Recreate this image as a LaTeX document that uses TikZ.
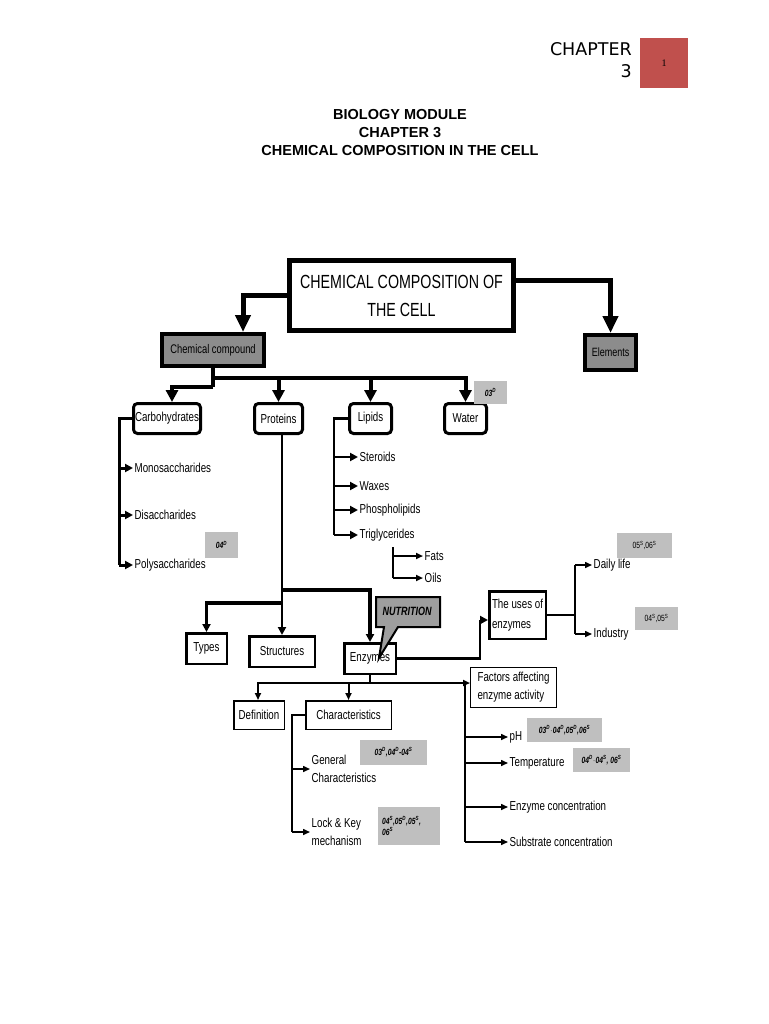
\documentclass[tikz,border=0pt]{standalone}
\usepackage{fontspec}
\setmainfont{Liberation Sans}
\newfontfamily\nf[FakeStretch=0.75]{Liberation Sans}
\newfontfamily\hdf{DejaVu Sans}
\newfontfamily\serf{Liberation Serif}
\usetikzlibrary{arrows.meta}
\newcommand\su[1]{\textsuperscript{#1}}
\tikzset{
  lbl/.style={anchor=west, inner sep=1.5pt, align=left, font={\nf\fontsize{13}{18}\selectfont}},
  rbox/.style={draw, line width=3pt, rounded corners=4pt, inner sep=0pt, minimum height=30pt, font={\nf\fontsize{13}{15}\selectfont}},
  sbox/.style={draw, line width=2.5pt, inner sep=0pt, font={\nf\fontsize{13}{15}\selectfont}},
  tbox/.style={draw, line width=1.5pt, inner sep=0pt, font={\nf\fontsize{13}{15}\selectfont}},
  badge/.style={fill=black!25, inner sep=0pt, align=left, font={\nf\bfseries\itshape\fontsize{9}{11}\selectfont}},
  rbadge/.style={fill=black!25, inner sep=0pt, font={\nf\fontsize{9}{11}\selectfont}},
  tipL/.style={-{Triangle[width=15pt,length=17pt]}},
  tipM/.style={-{Triangle[width=12pt,length=12pt]}},
  tipS/.style={-{Triangle[width=8pt,length=8pt]}},
  tipXS/.style={-{Triangle[width=6pt,length=7pt]}},
}
\begin{document}
\begin{tikzpicture}[x=1pt,y=-1pt]
\useasboundingbox[fill=white] (0,0) rectangle (768,1024);

% header
\node[anchor=north east, align=right, inner sep=0pt, font={\hdf\fontsize{17.5}{22}\selectfont}] (chap) at (632,42) {CHAPTER\\3};
\node[fill={rgb,255:red,192;green,80;blue,77}, minimum width=48pt, minimum height=50pt, inner sep=0pt, font={\serf\fontsize{10}{12}\selectfont}] (pg) at (664,63) {1};
\node[align=center, inner sep=0pt, font={\bfseries\fontsize{14.5}{18}\selectfont}] (title) at (400,133) {BIOLOGY MODULE\\CHAPTER 3\\CHEMICAL COMPOSITION IN THE CELL};

% top level
\node[draw, line width=5pt, minimum width=224pt, minimum height=70pt, inner sep=0pt, align=center, font={\nf\fontsize{19}{28}\selectfont}] (main) at (401.5,295.5) {CHEMICAL COMPOSITION OF\\THE CELL};
\node[draw, fill=black!45, line width=4pt, minimum width=102pt, minimum height=32pt, inner sep=0pt, font={\nf\fontsize{12.5}{14}\selectfont}] (cc) at (213,350) {Chemical compound};
\node[draw, fill=black!45, line width=4pt, minimum width=51pt, minimum height=35pt, inner sep=0pt, font={\nf\fontsize{12}{14}\selectfont}] (elem) at (610.5,352.5) {Elements};
\draw[line width=5pt, tipL] (main.west) -| ([xshift=30pt]cc.north);
\draw[line width=5pt, tipL] ([yshift=15pt]main.east) -| (elem.north);

% second level
\node[rbox, minimum width=67pt] (carb) at (167,418.5) {Carbohydrates};
\node[rbox, minimum width=48pt] (prot) at (278.5,418.5) {Proteins};
\node[rbox, minimum width=42pt] (lip) at (370.5,418.5) {Lipids};
\node[rbox, minimum width=42pt] (water) at (465.5,418.5) {Water};
\node[badge, minimum width=33pt, minimum height=23pt] (wb) at (490.5,392.5) {03\su{D}};
\coordinate (j1) at (213,378);
\coordinate (j2) at (213,387);
\draw[line width=4pt] (cc.south) -- (j2);
\draw[line width=4pt, tipM] (j2) -| ([xshift=5pt]carb.north);
\draw[line width=4pt, tipM] (j1) -| (water.north);
\draw[line width=4pt, tipM] (j1 -| prot.north) -- (prot.north);
\draw[line width=4pt, tipM] (j1 -| lip.north) -- (lip.north);

% carbohydrates
\node[badge, minimum width=33pt, minimum height=26pt] (pb) at (221.5,545) {04\su{D}};
\node[lbl] (mono) at (133,468) {Monosaccharides};
\node[lbl] (di) at (133,515) {Disaccharides};
\node[lbl] (poly) at (133,565) {Polysaccharides};
\coordinate (ct) at (119,418.5);
\draw[line width=3pt] (carb.west) -- (ct) -- (ct |- poly.west);
\foreach \n in {mono,di,poly} \draw[line width=3pt, tipS] (ct |- \n.west) -- (\n.west);

% lipids
\node[lbl] (ster) at (358,457) {Steroids};
\node[lbl] (wax) at (358,486) {Waxes};
\node[lbl] (phos) at (358,510) {Phospholipids};
\node[lbl] (trig) at (358,535) {Triglycerides};
\coordinate (lt) at (334,418.5);
\draw[line width=2.5pt] (lip.west) -- (lt) -- (lt |- trig.west);
\foreach \n in {ster,wax,phos,trig} \draw[line width=2.5pt, tipS] (lt |- \n.west) -- (\n.west);
\node[lbl] (fats) at (423,556) {Fats};
\node[lbl] (oils) at (423,578) {Oils};
\coordinate (tt) at (393,547);
\draw[line width=2.5pt] (tt) -- (tt |- oils.west);
\foreach \n in {fats,oils} \draw[line width=2.5pt, tipXS] (tt |- \n.west) -- (\n.west);

% proteins
\node[sbox, minimum width=40.5pt, minimum height=30.5pt] (types) at (206.5,648.5) {Types};
\node[sbox, minimum width=65.5pt, minimum height=30.5pt] (struct) at (282,651.5) {Structures};
\node[sbox, minimum width=51.5pt, minimum height=30.5pt] (enz) at (370,658.5) {Enzymes};
\coordinate (pj) at (282,590);
\coordinate (pk) at (282,603);
\draw[line width=2pt] (prot.south -| pj) -- (pj);
\draw[line width=3.5pt, tipS] (pj) -| (enz.north);
\draw[line width=3.5pt, tipS] (pk) -| (types.north);
\draw[line width=2pt, tipS] (pj) -- (struct.north);

% uses of enzymes
\node[sbox, minimum width=56.5pt, minimum height=47.5pt, align=left, font={\nf\fontsize{13}{20}\selectfont}] (uses) at (517.5,615) {The uses of\\enzymes};
\coordinate (ue) at (480,620);
\draw[line width=2.5pt] (enz.east) -| (ue);
\draw[line width=2.5pt, tipS] (ue) -- (ue -| uses.west);
\node[rbadge, minimum width=55pt, minimum height=25pt] (db) at (644.5,545.5) {05\su{S},06\su{S}};
\node[rbadge, minimum width=43pt, minimum height=23pt] (ib) at (656.5,618.5) {04\su{S},05\su{S}};
\node[lbl] (daily) at (592,565) {Daily life};
\node[lbl] (ind) at (592,634) {Industry};
\coordinate (ut) at (575,615);
\draw[line width=1.5pt] (uses.east) -- (ut);
\draw[line width=1.5pt] (ut |- daily.west) -- (ut |- ind.west);
\foreach \n in {daily,ind} \draw[line width=1.5pt, tipXS] (ut |- \n.west) -- (\n.west);

% nutrition callout
\draw[line width=2pt, fill=black!38, line join=miter] (376,597) -- (440,597) -- (440,627) -- (398,627) -- (379,658) -- (384,627) -- (376,627) -- cycle;
\node[inner sep=0pt, font={\nf\bfseries\itshape\fontsize{12}{14}\selectfont}] (nut) at (407,611) {NUTRITION};

% enzyme details
\node[tbox, minimum width=50.5pt, minimum height=28.5pt] (def) at (259,715) {Definition};
\node[tbox, minimum width=85.5pt, minimum height=28.5pt] (char) at (348.5,715) {Characteristics};
\node[draw, line width=1pt, inner sep=0pt, minimum width=86pt, minimum height=40pt, align=left, font={\nf\fontsize{13}{18}\selectfont}] (fac) at (513.5,687.5) {Factors affecting\\enzyme activity};
\coordinate (ej) at (370,683);
\draw[line width=2pt] (enz.south) -- (ej);
\draw[line width=2pt, tipXS] (ej) -| ([xshift=-1pt]def.north);
\draw[line width=2pt, tipXS] (ej -| char.north) -- (char.north);
\draw[line width=2pt, tipXS] (ej) -- (ej -| fac.west);

\node[badge, minimum width=67pt, minimum height=25pt] (gb) at (393.5,752.5) {03\su{D},04\su{D}-04\su{S}};
\node[badge, minimum width=62pt, minimum height=38pt, text width=54pt] (lb) at (409,826) {04\su{S},05\su{D},05\su{S},\\06\su{S}};
\node[lbl] (gen) at (310,769) {General\\Characteristics};
\node[lbl] (lock) at (310,832) {Lock \& Key\\mechanism};
\coordinate (cht) at (292,715);
\draw[line width=1.5pt] (char.west) -- (cht) -- (cht |- lock.west);
\foreach \n in {gen,lock} \draw[line width=1.5pt, tipXS] (cht |- \n.west) -- (\n.west);

\node[badge, minimum width=75pt, minimum height=24pt] (phb) at (564.5,730) {03\su{D}$\cdot$04\su{D},05\su{D},06\su{S}};
\node[badge, minimum width=57pt, minimum height=24pt] (tb) at (601.5,760) {04\su{D}$\cdot$04\su{S}, 06\su{S}};
\node[lbl] (ph) at (508,737) {pH};
\node[lbl] (temp) at (508,763) {Temperature};
\node[lbl] (econ) at (508,807) {Enzyme concentration};
\node[lbl] (scon) at (508,842) {Substrate concentration};
\coordinate (ft) at (465,683);
\draw[line width=1.5pt] (ft) -- (ft |- scon.west);
\foreach \n in {ph,temp,econ,scon} \draw[line width=1.5pt, tipXS] (ft |- \n.west) -- (\n.west);
\end{tikzpicture}
\end{document}
